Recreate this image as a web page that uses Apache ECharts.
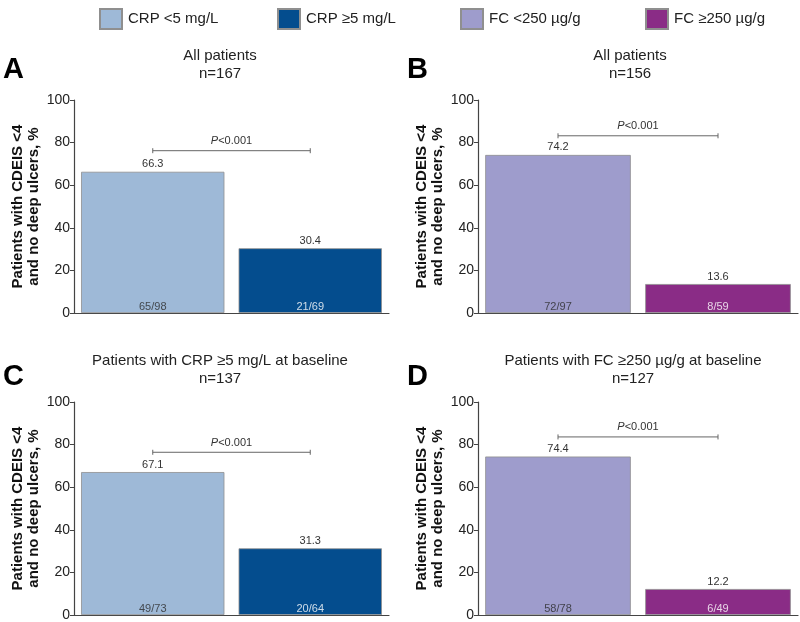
<!DOCTYPE html>
<html>
<head>
<meta charset="utf-8">
<script src="https://cdn.jsdelivr.net/npm/echarts@6/dist/echarts.min.js"></script>
<style>html,body{margin:0;padding:0;background:#fff}#c{width:800px;height:622px}</style>
</head>
<body>
<div id="c"></div>
<script>
// ---- data ----
const seriesNames = ['CRP <5 mg/L', 'CRP \u22655 mg/L', 'FC <250 \u00b5g/g', 'FC \u2265250 \u00b5g/g'];
const panelLetters = ['A', 'B', 'C', 'D'];
const panelTitles = ['All patients', 'All patients', 'Patients with CRP \u22655 mg/L at baseline', 'Patients with FC \u2265250 \u00b5g/g at baseline'];
const panelN = ['n=167', 'n=156', 'n=137', 'n=127'];
const valuesA = [66.3, 30.4];
const valuesB = [74.2, 13.6];
const valuesC = [67.1, 31.3];
const valuesD = [74.4, 12.2];
const fractionsA = ['65/98', '21/69'];
const fractionsB = ['72/97', '8/59'];
const fractionsC = ['49/73', '20/64'];
const fractionsD = ['58/78', '6/49'];
const pValueHeights = [76.2, 83.2, 76.4, 83.6];
const pLabel = 'P<0.001';
const yTicks = [0, 20, 40, 60, 80, 100];
const yAxisTitle = 'Patients with CDEIS <4\nand no deep ulcers, %';

// ---- styling ----
const colors = ['#9eb9d7', '#044d8e', '#9e9ccc', '#8a2c86'];
const font = 'Liberation Sans, Arial, Helvetica, sans-serif';
const grids = [
  {left: 74, top: 100, width: 315, height: 213},
  {left: 478, top: 100, width: 320, height: 213},
  {left: 74, top: 402, width: 315, height: 213},
  {left: 478, top: 402, width: 320, height: 213}
];
const panelValues = [valuesA, valuesB, valuesC, valuesD];
const panelFractions = [fractionsA, fractionsB, fractionsC, fractionsD];
const panelColorIdx = [[0, 1], [2, 3], [0, 1], [2, 3]];
const fracColors = ['#2a2a2a', '#fff'];
const titleCenters = [220, 630, 220, 633];
const titleTops = [47, 47, 352, 352];
const letterTops = [55, 55, 362, 362];
const letterLefts = [3, 407, 3, 407];

const option = {
  animation: false,
  backgroundColor: '#fff',
  textStyle: {fontFamily: font},
  legend: [0, 1, 2, 3].map(i => ({
    data: [seriesNames[i]],
    left: [99, 277, 460, 645][i],
    top: 8,
    padding: 0,
    icon: 'rect',
    itemWidth: 22,
    itemHeight: 20,
    itemGap: 0,
    selectedMode: false,
    textStyle: {fontSize: 15, color: '#222', fontFamily: font, padding: [0, 0, 0, 1]}
  })),
  title: [],
  grid: grids,
  xAxis: grids.map((g, i) => ({
    type: 'category', gridIndex: i, data: ['low', 'high'],
    axisLine: {lineStyle: {color: '#444', width: 1.2}},
    axisTick: {show: false}, axisLabel: {show: false}
  })),
  yAxis: grids.map((g, i) => ({
    type: 'value', gridIndex: i, min: 0, max: 100, interval: 20,
    name: yAxisTitle, nameLocation: 'middle', nameRotate: 90, nameGap: 32,
    nameTextStyle: {fontSize: 15, fontWeight: 'bold', color: '#111', lineHeight: 16, fontFamily: font},
    axisLine: {show: true, lineStyle: {color: '#444', width: 1.2}},
    axisTick: {show: true, length: 4, lineStyle: {color: '#444'}},
    axisLabel: {fontSize: 14, color: '#222', margin: 4, fontFamily: font},
    splitLine: {show: false}
  })),
  series: []
};

panelTitles.forEach((t, i) => {
  option.title.push({
    text: t + '\n' + panelN[i], left: titleCenters[i], top: titleTops[i], textAlign: 'center', padding: 0,
    textStyle: {fontSize: 15, fontWeight: 'normal', color: '#222', lineHeight: 18, fontFamily: font}
  });
  option.title.push({
    text: panelLetters[i], left: letterLefts[i], top: letterTops[i], padding: 0,
    textStyle: {fontSize: 29, fontWeight: 'bold', color: '#000', fontFamily: font}
  });
});

panelValues.forEach((vals, p) => {
  panelColorIdx[p].forEach((ci, k) => {
    const data = vals.map((v, j) => j === k ? v : '-');
    option.series.push({
      type: 'bar', name: seriesNames[ci], xAxisIndex: p, yAxisIndex: p,
      stack: 'panel' + p, barCategoryGap: '9%', data: data,
      itemStyle: {color: colors[ci], borderColor: '#8f8f8f', borderWidth: 0.8},
      label: {show: true, position: 'top', distance: 2, fontSize: 11, color: '#333', fontFamily: font,
        formatter: prm => prm.value.toFixed(1)}
    });
  });
  option.series.push({
    type: 'scatter', xAxisIndex: p, yAxisIndex: p, symbolSize: 0, silent: true,
    data: panelFractions[p].map((f, j) => ({
      value: [j, 0],
      label: {show: true, position: 'top', distance: 1, fontSize: 11, color: fracColors[j], fontFamily: font,
        formatter: () => f}
    }))
  });
  option.series.push({
    type: 'custom', xAxisIndex: p, yAxisIndex: p, silent: true,
    data: [[0, pValueHeights[p]]],
    renderItem: (params, api) => {
      const y = api.value(1);
      const a = api.coord([0, y]);
      const b = api.coord([1, y]);
      const st = {stroke: '#666', lineWidth: 1};
      return {
        type: 'group', children: [
          {type: 'line', shape: {x1: a[0], y1: a[1], x2: b[0], y2: b[1]}, style: st},
          {type: 'line', shape: {x1: a[0], y1: a[1] - 2.5, x2: a[0], y2: a[1] + 2.5}, style: st},
          {type: 'line', shape: {x1: b[0], y1: b[1] - 2.5, x2: b[0], y2: b[1] + 2.5}, style: st},
          {type: 'text', x: (a[0] + b[0]) / 2, y: a[1] - 4,
            style: {text: '{i|P}' + pLabel.slice(1), rich: {i: {fontStyle: 'italic', fontSize: 11, fill: '#333', fontFamily: font}},
              fontSize: 11, fill: '#333', fontFamily: font, align: 'center', verticalAlign: 'bottom'}}
        ]
      };
    }
  });
});

const chart = echarts.init(document.getElementById('c'), null, {renderer: 'canvas'});
chart.setOption(option);
</script>
</body>
</html>
